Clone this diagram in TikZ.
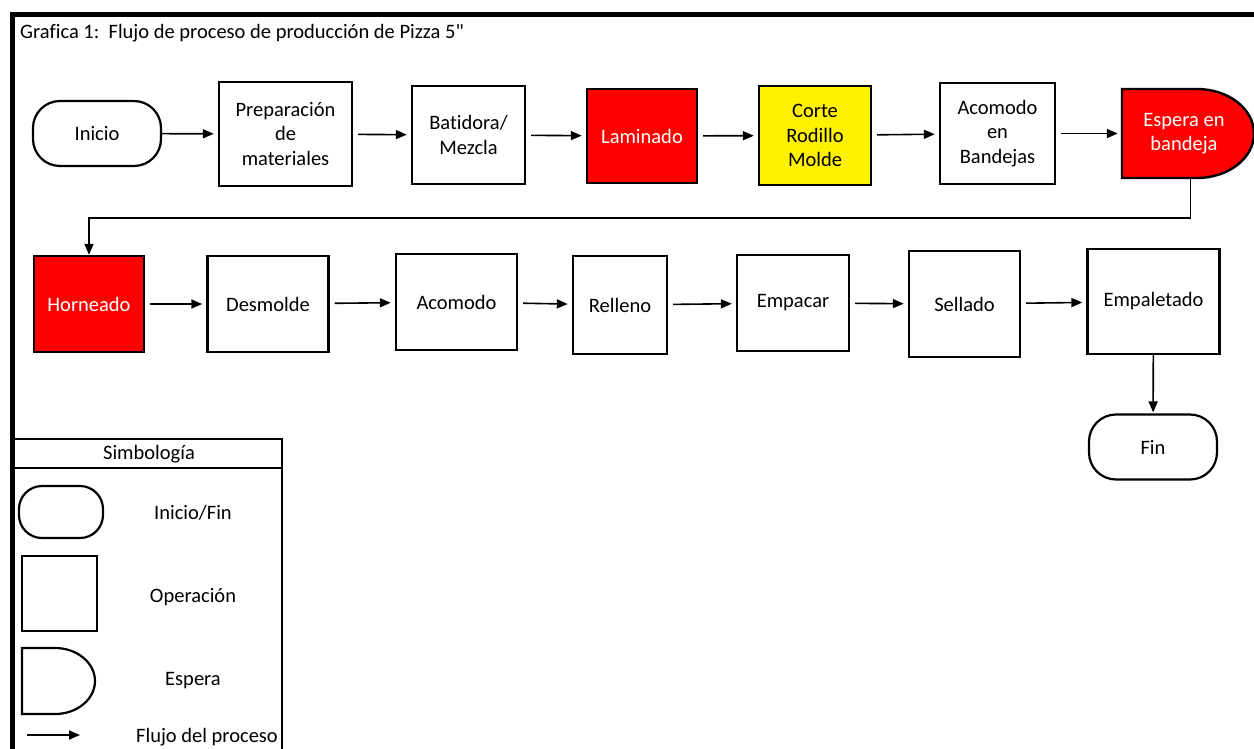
\documentclass[tikz,border=0pt]{standalone}
\usepackage{fontspec}
\setmainfont{Carlito}[Ligatures={TeXOff,NoCommon}]
\usetikzlibrary{arrows.meta}
\begin{document}
\begin{tikzpicture}[x=1pt,y=-1pt,
  every node/.style={font=\fontsize{20.5}{24.5}\selectfont, align=center, inner sep=0pt},
  opbox/.style 2 args={draw, line width=2.4pt, minimum width=#1, minimum height=#2},
  termbox/.style 2 args={draw, line width=2.2pt, rounded corners=27pt, minimum width=#1, minimum height=#2},
  flow/.style={line width=1.6pt, -{Triangle[length=11pt,width=9pt]}, shorten <=5pt, shorten >=4pt},
  hot/.style={fill=red, text=white}
]
\useasboundingbox (0,0) rectangle (1254,748);

% outer frame (top and left edges)
\draw[line width=5pt] (12.5,760) -- (12.5,14) -- (1260,14);
\node[anchor=west] (title) at (20,33) {Grafica 1:\ \ Flujo de proceso de producción de Pizza 5"};

% first row
\node[termbox={128pt}{65pt}] (inicio) at (97,133.5) {Inicio};
\node[opbox={133pt}{104pt}] (prep) at (285.5,134) {Preparación\\de\\materiales};
\node[opbox={113pt}{98pt}] (bati) at (468.5,135) {Batidora/\\Mezcla};
\node[opbox={110pt}{94pt}, hot] (lam) at (642,136) {Laminado};
\node[opbox={112pt}{99pt}, fill=yellow] (corte) at (815,135.5) {Corte\\Rodillo\\Molde};
\node[opbox={115pt}{101pt}] (acomb) at (997.5,133.5) {Acomodo\\en\\Bandejas};
% waiting symbol (flat left side, rounded right side)
\draw[line width=2.4pt, fill=red] (1122,89) -- (1197,89)
  arc[start angle=90, end angle=-90, x radius=57pt, y radius=44.5pt] -- (1122,178) -- cycle;
\node[minimum width=124pt, minimum height=89pt, text=white] (espera) at (1184,133.5) {Espera en\\bandeja};

% second row
\node[opbox={110pt}{96pt}, hot] (horn) at (89,304) {Horneado};
\node[opbox={121pt}{96pt}] (desm) at (268,304) {Desmolde};
\node[opbox={121pt}{96pt}] (acom) at (456.5,302) {Acomodo};
\node[opbox={94pt}{98pt}] (rell) at (620,305) {Relleno};
\node[opbox={112pt}{96pt}] (emp) at (793,303) {Empacar};
\node[opbox={111pt}{106pt}] (sell) at (964.5,304) {Sellado};
\node[opbox={132pt}{105pt}] (empal) at (1153.5,301.5) {Empaletado};
\node[termbox={128pt}{65pt}] (fin) at (1153,447) {Fin};

% connectors
\draw[flow, shorten <=0pt] (inicio) -- (prep);
\draw[flow] (prep) -- (bati);
\draw[flow] (bati) -- (lam);
\draw[flow] (lam) -- (corte);
\draw[flow] (corte) -- (acomb);
\draw[flow] (acomb) -- (espera.west |- acomb);
\draw[flow, shorten <=0pt, shorten >=0pt] (espera.south) ++(6.5,0) -- ++(0,40) -| (horn.north);
\draw[flow] (horn) -- (desm);
\draw[flow] (desm) -- (acom);
\draw[flow] (acom) -- (rell);
\draw[flow] (rell) -- (emp);
\draw[flow] (emp) -- (sell);
\draw[flow] (sell) -- (empal);
\draw[flow, shorten <=0pt, shorten >=1pt] (empal) -- (fin);

% legend
\draw[line width=2.4pt] (14,439) rectangle (282,760);
\draw[line width=2.4pt] (14,468) -- (282,468);
\node (simb) at (149,454) {Simbología};
\node[termbox={84pt}{52pt}, rounded corners=23pt] (lterm) at (61,512) {};
\node[opbox={75pt}{75pt}] (lop) at (59.5,593.5) {};
\draw[line width=2.2pt] (22,648) -- (55,648)
  arc[start angle=90, end angle=-90, x radius=40pt, y radius=33pt] -- (22,714) -- cycle;
\coordinate (la) at (27,735);
\coordinate (lb) at (80,735);
\draw[flow, shorten <=0pt, shorten >=0pt] (la) -- (lb);
\node (lt1) at (193,513) {Inicio/Fin};
\node (lt2) at (193,597) {Operación};
\node (lt3) at (193,681) {Espera};
\node (lt4) at (207,737) {Flujo del proceso};
\end{tikzpicture}
\end{document}
